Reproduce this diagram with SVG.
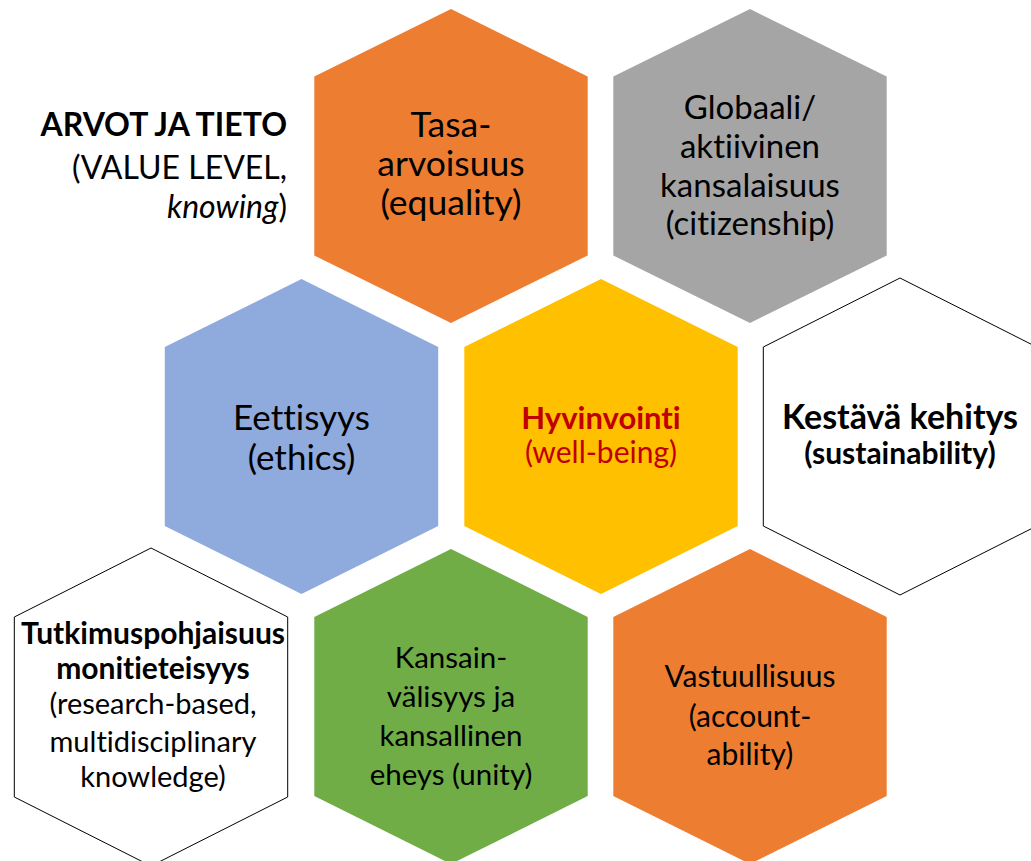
<svg xmlns="http://www.w3.org/2000/svg" width="1031" height="861" viewBox="0 0 1031 861">
<style>
text{font-family:Lato,"Open Sans","Liberation Sans",sans-serif;text-anchor:middle;fill:#000;font-variant-ligatures:none;font-feature-settings:"liga" 0,"clig" 0}
.hx{stroke:none}
.wh{fill:#fff;stroke:#000;stroke-width:1}
.b{font-weight:bold}
.red{fill:#C00000}
.end{text-anchor:end}
</style>
<rect width="1031" height="861" fill="#fff"/>
<g id="title">
<text class="end b" x="287" y="136" font-size="32">ARVOT JA TIETO</text>
<text class="end" x="287" y="179" font-size="32">(VALUE LEVEL,</text>
<text class="end" x="287" y="218" font-size="32"><tspan font-style="italic">knowing</tspan>)</text>
</g>
<g id="node-tasa">
<polygon class="hx" fill="#ED7D31" points="451,9 587.7,76.5 587.7,255.5 451,323 314.3,255.5 314.3,76.5"/>
<text x="451" y="137" font-size="35.5">Tasa-</text>
<text x="451" y="176" font-size="35.5">arvoisuus</text>
<text x="451" y="215" font-size="35.5">(equality)</text>
</g>
<g id="node-globaali">
<polygon class="hx" fill="#A5A5A5" points="750,9 886.7,76.5 886.7,255.5 750,323 613.3,255.5 613.3,76.5"/>
<text x="750" y="119" font-size="33">Globaali/</text>
<text x="750" y="158" font-size="33">aktiivinen</text>
<text x="750" y="197" font-size="33">kansalaisuus</text>
<text x="750" y="235" font-size="33">(citizenship)</text>
</g>
<g id="node-eettisyys">
<polygon class="hx" fill="#8FAADC" points="301.5,279 438.2,347 438.2,526 301.5,594 164.8,526 164.8,347"/>
<text x="301.5" y="430" font-size="35">Eettisyys</text>
<text x="301.5" y="470" font-size="35">(ethics)</text>
</g>
<g id="node-hyvinvointi">
<polygon class="hx" fill="#FFC000" points="601,279 737.7,347 737.7,526 601,594 464.3,526 464.3,347"/>
<text class="b red" x="601" y="429" font-size="31">Hyvinvointi</text>
<text class="red" x="601" y="463" font-size="30">(well-being)</text>
</g>
<g id="node-kestava">
<polygon class="wh" points="900,278 1036.7,347 1036.7,526 900,595 763.3,526 763.3,347"/>
<text class="b" x="900" y="429" font-size="34">Kestävä kehitys</text>
<text class="b" x="900" y="464" font-size="30">(sustainability)</text>
</g>
<g id="node-tutkimus">
<polygon class="wh" points="151,548 287.7,617 287.7,797 151,866 14.3,797 14.3,617"/>
<text class="b" x="153" y="644" font-size="30">Tutkimuspohjaisuus</text>
<text class="b" x="153" y="679" font-size="30">monitieteisyys</text>
<text x="153" y="714" font-size="29">(research-based,</text>
<text x="153" y="752" font-size="29">multidisciplinary</text>
<text x="153" y="787" font-size="29">knowledge)</text>
</g>
<g id="node-kansainvalisyys">
<polygon class="hx" fill="#70AD47" points="451,549 587.7,617 587.7,796 451,864 314.3,796 314.3,617"/>
<text x="451" y="668" font-size="29.5">Kansain-</text>
<text x="451" y="707" font-size="29.5">välisyys ja</text>
<text x="451" y="746" font-size="29.5">kansallinen</text>
<text x="451" y="785" font-size="29.5">eheys (unity)</text>
</g>
<g id="node-vastuullisuus">
<polygon class="hx" fill="#ED7D31" points="750,549 886.7,617 886.7,796 750,864 613.3,796 613.3,617"/>
<text x="750" y="687" font-size="30">Vastuullisuus</text>
<text x="750" y="727" font-size="30">(account-</text>
<text x="750" y="765" font-size="30">ability)</text>
</g>
<g id="connectors"></g>
</svg>
